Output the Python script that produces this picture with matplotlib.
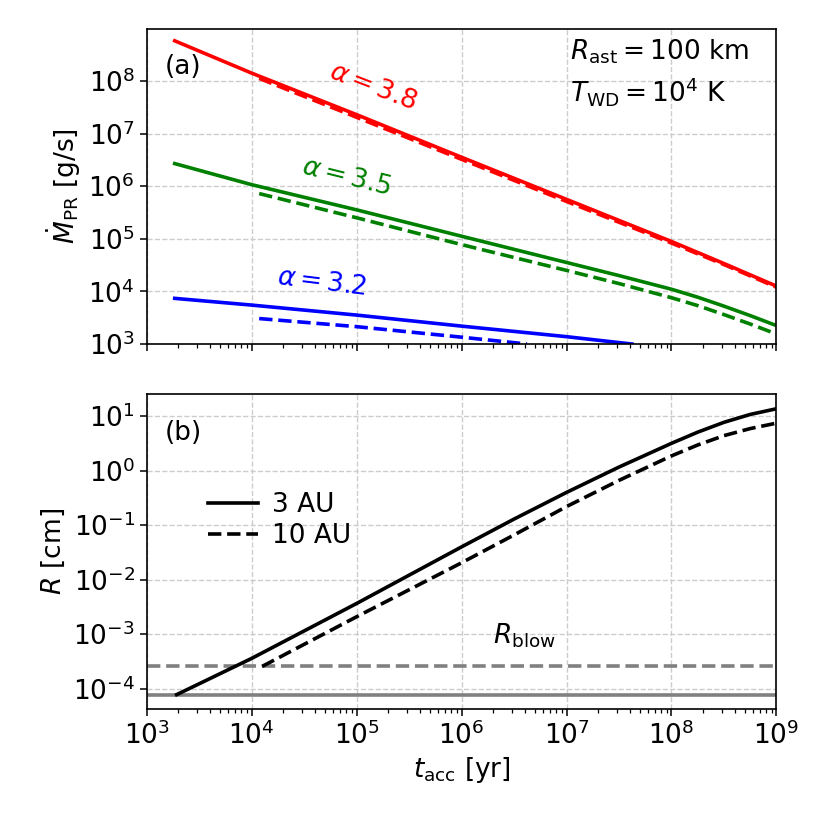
import numpy as np
import matplotlib
matplotlib.use("Agg")
import matplotlib.pyplot as plt
from matplotlib.ticker import NullLocator, LogLocator

# ---------------- data ----------------
# panel (a): mass accretion rate [g/s] vs accretion time [yr]
t_red_solid = [1.85e3, 1e4, 1e5, 1e6, 1e7, 1e8, 3.16e8, 1e9]
red_solid = [5.8e8, 1.41e8, 2.29e7, 3.55e6, 5.62e5, 8.9e4, 3.39e4, 1.26e4]
t_red_dash = [1.18e4, 1e5, 1e6, 1e7, 1e8, 3.16e8, 1e9]
red_dash = [1.12e8, 2.04e7, 3.24e6, 5.13e5, 8.3e4, 3.24e4, 1.2e4]

t_green_solid = [1.85e3, 1e4, 1e5, 1e6, 1e7, 3.16e7, 1e8, 1.78e8, 3.16e8, 5.62e8, 1e9]
green_solid = [2.69e6, 1.07e6, 3.55e5, 1.12e5, 3.55e4, 2.0e4, 1.10e4, 7.76e3, 5.25e3, 3.47e3, 2.24e3]
t_green_dash = [1.18e4, 1e5, 1e6, 1e7, 3.16e7, 1e8, 1.78e8, 3.16e8, 5.62e8, 1e9]
green_dash = [7.24e5, 2.51e5, 7.76e4, 2.51e4, 1.41e4, 7.59e3, 5.37e3, 3.63e3, 2.40e3, 1.55e3]

t_blue_solid = [1.85e3, 1e4, 1e5, 1e6, 1e7, 4.2e7]
blue_solid = [7.38e3, 5.5e3, 3.55e3, 2.19e3, 1.38e3, 1.0e3]
t_blue_dash = [1.18e4, 1e5, 1e6, 4.2e6]
blue_dash = [3.05e3, 2.14e3, 1.35e3, 1.0e3]

# panel (b): grain size [cm] vs accretion time [yr]
t_b_solid = [1.93e3, 1e4, 1e5, 1e6, 3.16e6, 1e7, 3.16e7, 1e8, 1.78e8, 3.16e8, 5.62e8, 1e9]
R_3AU = [7.8e-5, 3.6e-4, 3.66e-3, 3.99e-2, 0.129, 0.398, 1.16, 3.16, 5.07, 7.67, 10.7, 13.6]
t_b_dash = [1.26e4, 1e5, 1e6, 3.16e6, 1e7, 3.16e7, 1e8, 1.78e8, 3.16e8, 5.62e8, 1e9]
R_10AU = [2.57e-4, 2.09e-3, 2.04e-2, 0.066, 0.219, 0.661, 1.86, 2.95, 4.37, 5.89, 7.41]
R_blow_3AU = 7.8e-5
R_blow_10AU = 2.57e-4

alpha_labels = [r"$\alpha = 3.8$", r"$\alpha = 3.5$", r"$\alpha = 3.2$"]
legend_labels = ["3 AU", "10 AU"]

# ---------------- figure ----------------
FS = 19
plt.rcParams.update({
    "font.size": FS,
    "font.family": ["DejaVu Sans"],
    "mathtext.fontset": "dejavusans",
    "xtick.direction": "out",
    "ytick.direction": "out",
})

fig = plt.figure(figsize=(8.3, 8.3), dpi=100)
ax1 = fig.add_axes([0.1767, 0.5855, 0.7588, 0.3795])
ax2 = fig.add_axes([0.1767, 0.1454, 0.7588, 0.3795], sharex=ax1)

LW = 2.6
ax1.plot(t_red_solid, red_solid, color="red", lw=LW)
ax1.plot(t_red_dash, red_dash, color="red", lw=LW, ls="--")
ax1.plot(t_green_solid, green_solid, color="green", lw=LW)
ax1.plot(t_green_dash, green_dash, color="green", lw=LW, ls="--")
ax1.plot(t_blue_solid, blue_solid, color="blue", lw=LW)
ax1.plot(t_blue_dash, blue_dash, color="blue", lw=LW, ls="--")

ax2.plot(t_b_solid, R_3AU, color="black", lw=LW, label=legend_labels[0], zorder=3)
ax2.plot(t_b_dash, R_10AU, color="black", lw=LW, ls="--", label=legend_labels[1], zorder=3)
ax2.axhline(R_blow_3AU, color="gray", lw=LW, zorder=2)
ax2.axhline(R_blow_10AU, color="gray", lw=LW, ls="--", zorder=2)

for ax in (ax1, ax2):
    ax.set_xscale("log")
    ax.set_yscale("log")
    ax.grid(True, which="major", ls="--", color="#cccccc", lw=1.0)
    ax.set_axisbelow(True)
    ax.yaxis.set_minor_locator(NullLocator())
    ax.yaxis.set_major_locator(LogLocator(base=10, numticks=20))
    ax.tick_params(which="major", length=5, width=1.1, labelsize=FS)
    ax.tick_params(which="minor", length=3, width=0.9)
    for s in ax.spines.values():
        s.set_linewidth(1.2)

ax1.set_xlim(1e3, 1e9)
ax1.set_ylim(1e3, 9.7e8)
ax2.set_ylim(4.2e-5, 25)
ax1.xaxis.set_major_locator(LogLocator(base=10, numticks=20))
ax1.xaxis.set_minor_locator(LogLocator(base=10, subs=np.arange(2, 10), numticks=20))
plt.setp(ax1.get_xticklabels(), visible=False)

ax1.set_ylabel(r"$\dot{M}_{\rm PR}$ [g/s]", fontsize=FS)
ax2.set_ylabel(r"$R$ [cm]", fontsize=FS)
ax2.set_xlabel(r"$t_{\rm acc}$ [yr]", fontsize=FS)

ax1.text(0.058, 0.88, "(a)", transform=ax1.transAxes, ha="center", va="center", fontsize=FS)
ax2.text(0.059, 0.877, "(b)", transform=ax2.transAxes, ha="center", va="center", fontsize=FS)
ax1.text(0.672, 0.928, r"$R_{\rm ast} = 100$ km", transform=ax1.transAxes, ha="left", va="center", fontsize=FS)
ax1.text(0.672, 0.801, r"$T_{\rm WD} = 10^4$ K", transform=ax1.transAxes, ha="left", va="center", fontsize=FS)

ax1.text(0.359, 0.816, alpha_labels[0], transform=ax1.transAxes, color="red", rotation=-21,
         ha="center", va="center", fontsize=FS)
ax1.text(0.318, 0.530, alpha_labels[1], transform=ax1.transAxes, color="green", rotation=-14,
         ha="center", va="center", fontsize=FS)
ax1.text(0.277, 0.194, alpha_labels[2], transform=ax1.transAxes, color="blue", rotation=-7,
         ha="center", va="center", fontsize=FS)

ax2.text(0.60, 0.233, r"$R_{\rm blow}$", transform=ax2.transAxes, ha="center", va="center", fontsize=FS)

ax2.legend(loc="upper left", bbox_to_anchor=(0.06, 0.765), frameon=False, fontsize=FS,
           handlelength=1.9, handletextpad=0.5, labelspacing=0.2)

fig.savefig("out.png", dpi=100)
